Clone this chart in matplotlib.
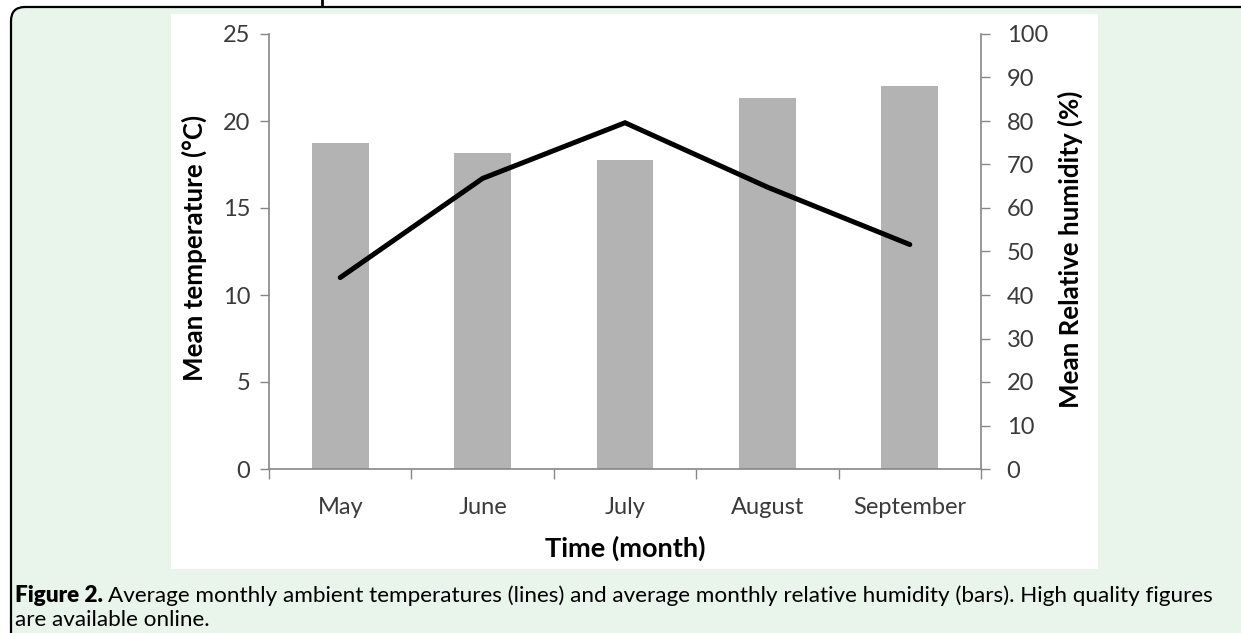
import matplotlib
matplotlib.use("Agg")
import matplotlib.pyplot as plt
from matplotlib.patches import FancyBboxPatch, Rectangle
from matplotlib.lines import Line2D

# data
months = ["May", "June", "July", "August", "September"]
temperature = [11.0, 16.7, 19.9, 16.2, 12.9]      # left axis, deg C (line)
humidity = [75.0, 72.7, 71.1, 85.3, 88.1]         # right axis, % (bars)
temp_ticks = [0, 5, 10, 15, 20, 25]
hum_ticks = [0, 10, 20, 30, 40, 50, 60, 70, 80, 90, 100]

W, H = 1241, 633
plt.rcParams["font.family"] = ["Lato", "DejaVu Sans"]

fig = plt.figure(figsize=(W / 100, H / 100), dpi=100, facecolor="white")

# green caption panel with rounded top-left corner (pixel coords)
panel = FancyBboxPatch((11, -20), 1260, H - 7 + 20,
                       boxstyle="round,pad=0,rounding_size=14",
                       facecolor="#E9F4EB", edgecolor="black", linewidth=1.6,
                       transform=None, zorder=-3)
fig.patches.append(panel)
# white chart area
fig.patches.append(Rectangle((171, H - 569), 927, 555, facecolor="white",
                             edgecolor="none", transform=None, zorder=-2))
# small descender of the cut-off text above the panel
fig.add_artist(Line2D([322, 322], [H, H - 6], color="black", lw=2, transform=None))

gray = "#868686"
txt = "#3A3A3A"
tick_size = 17
label_size = 18.6

left, right, top, bottom = 269, 981, 34, 469
ax = fig.add_axes([left / W, 1 - bottom / H, (right - left) / W, (bottom - top) / H])
ax2 = ax.twinx()

x = list(range(len(months)))
ax2.bar(x, humidity, width=0.4, color="#B3B3B3", zorder=1)
ax.plot(x, temperature, color="black", lw=3.6, solid_capstyle="round",
        solid_joinstyle="miter", zorder=3)

ax.set_zorder(ax2.get_zorder() + 1)
ax.patch.set_visible(False)
ax2.patch.set_visible(False)

ax.set_xlim(-0.5, len(months) - 0.5)
ax.set_ylim(0, 25)
ax2.set_ylim(0, 100)
ax.set_yticks(temp_ticks)
ax2.set_yticks(hum_ticks)

# category boundaries get the tick marks, labels sit on minor ticks
ax.set_xticks([i - 0.5 for i in range(len(months) + 1)])
ax.set_xticklabels([])
ax.set_xticks(x, minor=True)
ax.set_xticklabels(months, minor=True)
ax.tick_params(axis="x", which="major", direction="out", length=7, width=1, color=gray)
ax.tick_params(axis="x", which="minor", length=0, pad=20, labelsize=tick_size,
               labelcolor=txt)
ax.tick_params(axis="y", direction="out", length=6.5, width=1, color=gray,
               pad=7, labelsize=tick_size, labelcolor=txt)
ax2.tick_params(axis="y", direction="out", length=6.5, width=1, color=gray,
                pad=12, labelsize=tick_size, labelcolor=txt)

for a in (ax, ax2):
    for s in a.spines.values():
        s.set_visible(False)
ax.spines["left"].set_visible(True)
ax.spines["bottom"].set_visible(True)
ax2.spines["right"].set_visible(True)
for s in (ax.spines["left"], ax.spines["bottom"], ax2.spines["right"]):
    s.set_color(gray)
    s.set_linewidth(1.2)

# axis titles
fig.text(194 / W, 1 - 248 / H, "Mean temperature (°C)", rotation=90, ha="center",
         va="center", fontsize=label_size, fontweight="bold", color="black")
fig.text(1070 / W, 1 - 249 / H, "Mean Relative humidity (%)", rotation=90, ha="center",
         va="center", fontsize=label_size, fontweight="bold", color="black")
fig.text(625 / W, 1 - 548 / H, "Time (month)", ha="center", va="center",
         fontsize=19.5, fontweight="bold", color="black")

# caption
cap_size = 16.2
t1 = fig.text(15 / W, 1 - 596 / H, "Figure 2.", ha="left", va="center",
              fontsize=cap_size, fontweight="heavy", color="black")
fig.canvas.draw()
bb = t1.get_window_extent(renderer=fig.canvas.get_renderer())
fig.text((bb.x1 + 5) / W, 1 - 596 / H,
         "Average monthly ambient temperatures (lines) and average monthly relative "
         "humidity (bars). High quality figures",
         ha="left", va="center", fontsize=cap_size, color="black")
fig.text(15 / W, 1 - 620 / H, "are available online.", ha="left", va="center",
         fontsize=cap_size, color="black")

fig.savefig("out.png", dpi=100, facecolor="white")
